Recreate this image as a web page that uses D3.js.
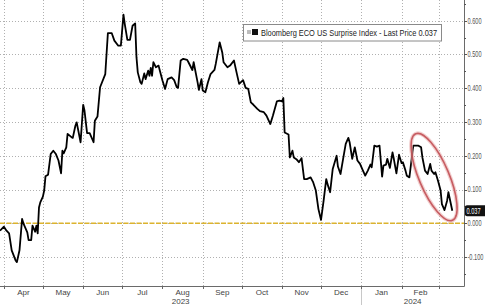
<!DOCTYPE html>
<html><head><meta charset="utf-8">
<script src="https://cdn.jsdelivr.net/npm/d3@7"></script>
<style>
html,body{margin:0;padding:0;background:#fff;overflow:hidden;}
svg{display:block;font-family:"Liberation Sans",Arial,sans-serif;}
</style></head><body>
<svg id="chart" width="485" height="305"></svg>
<script>
// ---- data ----
const dates = [
"2023-03-29","2023-04-01","2023-04-03","2023-04-05","2023-04-07","2023-04-10","2023-04-11","2023-04-13","2023-04-15","2023-04-16",
"2023-04-19","2023-04-20","2023-04-22","2023-04-23","2023-04-25","2023-04-26","2023-04-27","2023-04-28","2023-04-29","2023-05-01",
"2023-05-02","2023-05-03","2023-05-05","2023-05-07","2023-05-09","2023-05-11","2023-05-13","2023-05-15","2023-05-16","2023-05-17",
"2023-05-19","2023-05-20","2023-05-23","2023-05-24","2023-05-26","2023-05-27","2023-05-30","2023-06-01","2023-06-02","2023-06-04",
"2023-06-06","2023-06-09","2023-06-10","2023-06-12","2023-06-14","2023-06-18","2023-06-20","2023-06-23","2023-06-25","2023-06-28",
"2023-06-30","2023-07-02","2023-07-03","2023-07-05","2023-07-07","2023-07-09","2023-07-11","2023-07-12","2023-07-13","2023-07-15",
"2023-07-16","2023-07-18","2023-07-19","2023-07-21","2023-07-22","2023-07-23","2023-07-24","2023-07-25","2023-07-27","2023-07-29",
"2023-07-30","2023-08-01","2023-08-03","2023-08-05","2023-08-08","2023-08-10","2023-08-12","2023-08-13","2023-08-15","2023-08-17",
"2023-08-20","2023-08-21","2023-08-24","2023-08-25","2023-08-28","2023-08-29","2023-08-31","2023-09-01","2023-09-03","2023-09-05",
"2023-09-07","2023-09-10","2023-09-11","2023-09-14","2023-09-16","2023-09-17","2023-09-20","2023-09-22","2023-09-25","2023-09-27",
"2023-09-29","2023-10-02","2023-10-04","2023-10-06","2023-10-08","2023-10-10","2023-10-13","2023-10-15","2023-10-18","2023-10-20",
"2023-10-23","2023-10-25","2023-10-28","2023-10-30","2023-11-01","2023-11-02","2023-11-03","2023-11-06","2023-11-07","2023-11-09",
"2023-11-10","2023-11-12","2023-11-14","2023-11-16","2023-11-18","2023-11-20","2023-11-23","2023-11-25","2023-11-27","2023-11-29",
"2023-12-01","2023-12-03","2023-12-05","2023-12-06","2023-12-08","2023-12-10","2023-12-13","2023-12-14","2023-12-16","2023-12-18",
"2023-12-20","2023-12-22","2023-12-23","2023-12-25","2023-12-27","2023-12-29","2023-12-31","2024-01-02","2024-01-04","2024-01-06",
"2024-01-08","2024-01-09","2024-01-11","2024-01-13","2024-01-15","2024-01-17","2024-01-18","2024-01-20","2024-01-21","2024-01-23",
"2024-01-25","2024-01-26","2024-01-28","2024-01-30","2024-02-01","2024-02-02","2024-02-04","2024-02-05","2024-02-07","2024-02-09",
"2024-02-10","2024-02-14","2024-02-16","2024-02-17","2024-02-19","2024-02-21","2024-02-23","2024-02-24","2024-02-26","2024-02-27",
"2024-02-29","2024-03-02","2024-03-03","2024-03-05","2024-03-07","2024-03-08","2024-03-11"
];
const values = [
-0.022,-0.010,-0.022,-0.030,-0.080,-0.110,-0.115,-0.080,0.013,0.000,
-0.027,-0.050,-0.050,-0.007,-0.025,-0.007,-0.030,0.047,0.062,0.079,
0.097,0.139,0.144,0.205,0.215,0.205,0.186,0.148,0.215,0.207,
0.225,0.265,0.255,0.253,0.289,0.299,0.240,0.351,0.334,0.267,
0.267,0.240,0.304,0.316,0.403,0.442,0.563,0.563,0.541,0.526,
0.526,0.618,0.590,0.543,0.543,0.585,0.592,0.492,0.447,0.418,
0.413,0.444,0.427,0.452,0.437,0.460,0.437,0.477,0.462,0.467,
0.452,0.423,0.398,0.427,0.432,0.424,0.403,0.401,0.482,0.487,
0.484,0.477,0.454,0.477,0.418,0.395,0.427,0.393,0.388,0.418,
0.442,0.454,0.472,0.536,0.506,0.477,0.462,0.467,0.482,0.447,
0.413,0.424,0.401,0.398,0.358,0.351,0.339,0.332,0.329,0.319,
0.294,0.319,0.361,0.363,0.361,0.371,0.269,0.263,0.195,0.215,
0.195,0.190,0.181,0.193,0.131,0.131,0.136,0.121,0.097,0.042,
0.010,0.067,0.131,0.116,0.092,0.161,0.200,0.168,0.146,0.191,
0.235,0.253,0.240,0.191,0.225,0.186,0.176,0.158,0.141,0.156,
0.174,0.166,0.230,0.227,0.230,0.138,0.171,0.174,0.191,0.164,
0.210,0.191,0.148,0.203,0.178,0.181,0.156,0.141,0.136,0.200,
0.230,0.230,0.225,0.195,0.156,0.146,0.176,0.156,0.146,0.151,
0.126,0.097,0.057,0.039,0.067,0.092,0.037
];
const yTickValues = [0.6,0.5,0.4,0.3,0.2,0.1,0.0,-0.1];
const yMinorValues = [0.65,0.55,0.45,0.35,0.25,0.15,0.05,-0.05,-0.15];
const monthLabels = ["Apr","May","Jun","Jul","Aug","Sep","Oct","Nov","Dec","Jan","Feb"];
const yearLabels = ["2023","2024"];
const seriesName = "Bloomberg ECO US Surprise Index - Last Price";
const lastPrice = 0.037;
const highlight = {date:"2024-02-26", value:0.137};

// ---- layout ----
const W = 464, H = 286;
const parse = d3.timeParse("%Y-%m-%d");
const data = dates.map((d,i)=>({date:parse(d), value:values[i]}));

const x = d3.scaleTime().domain([new Date(2023,2,29), new Date(2024,2,20)]).range([0,W]);
const y = d3.scaleLinear().domain([-0.1857,0.6613]).range([H,0]);
const fmt = d => d3.format(".3f")(d).replace("\u2212","-");

const svg = d3.select("#chart");
svg.append("rect").attr("width",485).attr("height",305).attr("fill","#fff");

const monthStarts = d3.timeMonth.range(new Date(2023,3,1), new Date(2024,2,2));

// grid
const grid = svg.append("g");
grid.selectAll("line.h").data(yTickValues).join("line")
  .attr("x1",0).attr("x2",W).attr("y1",d=>Math.round(y(d))+0.5).attr("y2",d=>Math.round(y(d))+0.5)
  .attr("stroke","#b0b0b0").attr("stroke-dasharray","1,2");
grid.selectAll("line.v").data(monthStarts).join("line")
  .attr("x1",d=>Math.round(x(d))+0.5).attr("x2",d=>Math.round(x(d))+0.5).attr("y1",0).attr("y2",H)
  .attr("stroke","#b0b0b0").attr("stroke-dasharray","1,2");

// zero line
svg.append("line").attr("x1",0).attr("x2",W).attr("y1",y(0)).attr("y2",y(0))
  .attr("stroke","#dcb32e").attr("stroke-width",1.6).attr("stroke-dasharray","5,1.5");

// axes lines
svg.append("line").attr("x1",0).attr("x2",W+0.5).attr("y1",H+0.5).attr("y2",H+0.5).attr("stroke","#6a6a6a");
svg.append("line").attr("x1",W+0.5).attr("x2",W+0.5).attr("y1",0).attr("y2",H+0.5).attr("stroke","#6a6a6a");

// right ticks
svg.selectAll("line.yt").data(yTickValues).join("line")
  .attr("x1",W).attr("x2",W+3).attr("y1",d=>Math.round(y(d))+0.5).attr("y2",d=>Math.round(y(d))+0.5).attr("stroke","#555");
svg.selectAll("line.ym").data(yMinorValues).join("line")
  .attr("x1",W).attr("x2",W+2).attr("y1",d=>Math.round(y(d))+0.5).attr("y2",d=>Math.round(y(d))+0.5).attr("stroke","#555");
svg.selectAll("text.yl").data(yTickValues).join("text")
  .attr("transform",d=>`translate(${W+3.5},${y(d)}) scale(0.66,1)`).attr("dy","0.34em")
  .attr("font-size",8.5).attr("fill","#555")
  .text(d=>fmt(d));

// bottom month ticks & labels
svg.selectAll("line.mt").data(monthStarts).join("line")
  .attr("x1",d=>Math.round(x(d))+0.5).attr("x2",d=>Math.round(x(d))+0.5).attr("y1",H).attr("y2",H+3).attr("stroke","#666");
svg.selectAll("text.ml").data(monthLabels).join("text")
  .attr("x",(d,i)=>(x(monthStarts[i])+x(monthStarts[i+1]))/2).attr("y",295)
  .attr("text-anchor","middle").attr("font-size",8).attr("fill","#444").text(d=>d);
const jan1 = new Date(2024,0,1);
const yearCenters = [(0+x(jan1))/2, (x(jan1)+W)/2];
svg.selectAll("text.yr").data(yearLabels).join("text")
  .attr("x",(d,i)=>yearCenters[i]).attr("y",304)
  .attr("text-anchor","middle").attr("font-size",8).attr("fill","#444").text(d=>d);
svg.append("line").attr("x1",Math.round(x(jan1))+0.5).attr("x2",Math.round(x(jan1))+0.5)
  .attr("y1",H+3).attr("y2",305).attr("stroke","#c8c8c8");

// series line
svg.append("path").datum(data)
  .attr("fill","none").attr("stroke","#000").attr("stroke-width",1.8).attr("stroke-linejoin","round")
  .attr("d",d3.line().x(d=>x(d.date)).y(d=>y(d.value)));

// highlight ellipse
const hx = x(parse(highlight.date)), hy = y(highlight.value);
const eg = svg.append("g").attr("transform",`translate(${hx},${hy}) rotate(-23)`);
eg.append("ellipse").attr("rx",15).attr("ry",47).attr("fill","none").attr("stroke","#eab0b0").attr("stroke-width",4).attr("opacity",0.6);
eg.append("ellipse").attr("rx",15).attr("ry",47).attr("fill","none").attr("stroke","#c0494f").attr("stroke-width",1.6).attr("opacity",0.85);

// legend
const lg = svg.append("g");
lg.append("rect").attr("x",243.5).attr("y",24.5).attr("width",198).attr("height",16.5).attr("fill","#fff").attr("stroke","#8a8a8a");
lg.append("rect").attr("x",247).attr("y",30).attr("width",4).attr("height",4).attr("fill","#bdbdbd");
lg.append("rect").attr("x",252).attr("y",29).attr("width",6).attr("height",6).attr("fill","#111");
lg.append("text").attr("x",261).attr("y",35.8).attr("font-size",9).attr("fill","#222")
  .attr("textLength",176).attr("lengthAdjust","spacingAndGlyphs")
  .text(seriesName + " " + fmt(lastPrice));

// last price tag
const ly = y(lastPrice);
svg.append("rect").attr("x",465).attr("y",ly-5.5).attr("width",22).attr("height",11).attr("rx",2).attr("fill","#111");
svg.append("text").attr("transform",`translate(466.5,${ly}) scale(0.66,1)`).attr("dy","0.34em")
  .attr("font-size",8.5).attr("fill","#fff")
  .text(fmt(lastPrice));
</script>
</body></html>
